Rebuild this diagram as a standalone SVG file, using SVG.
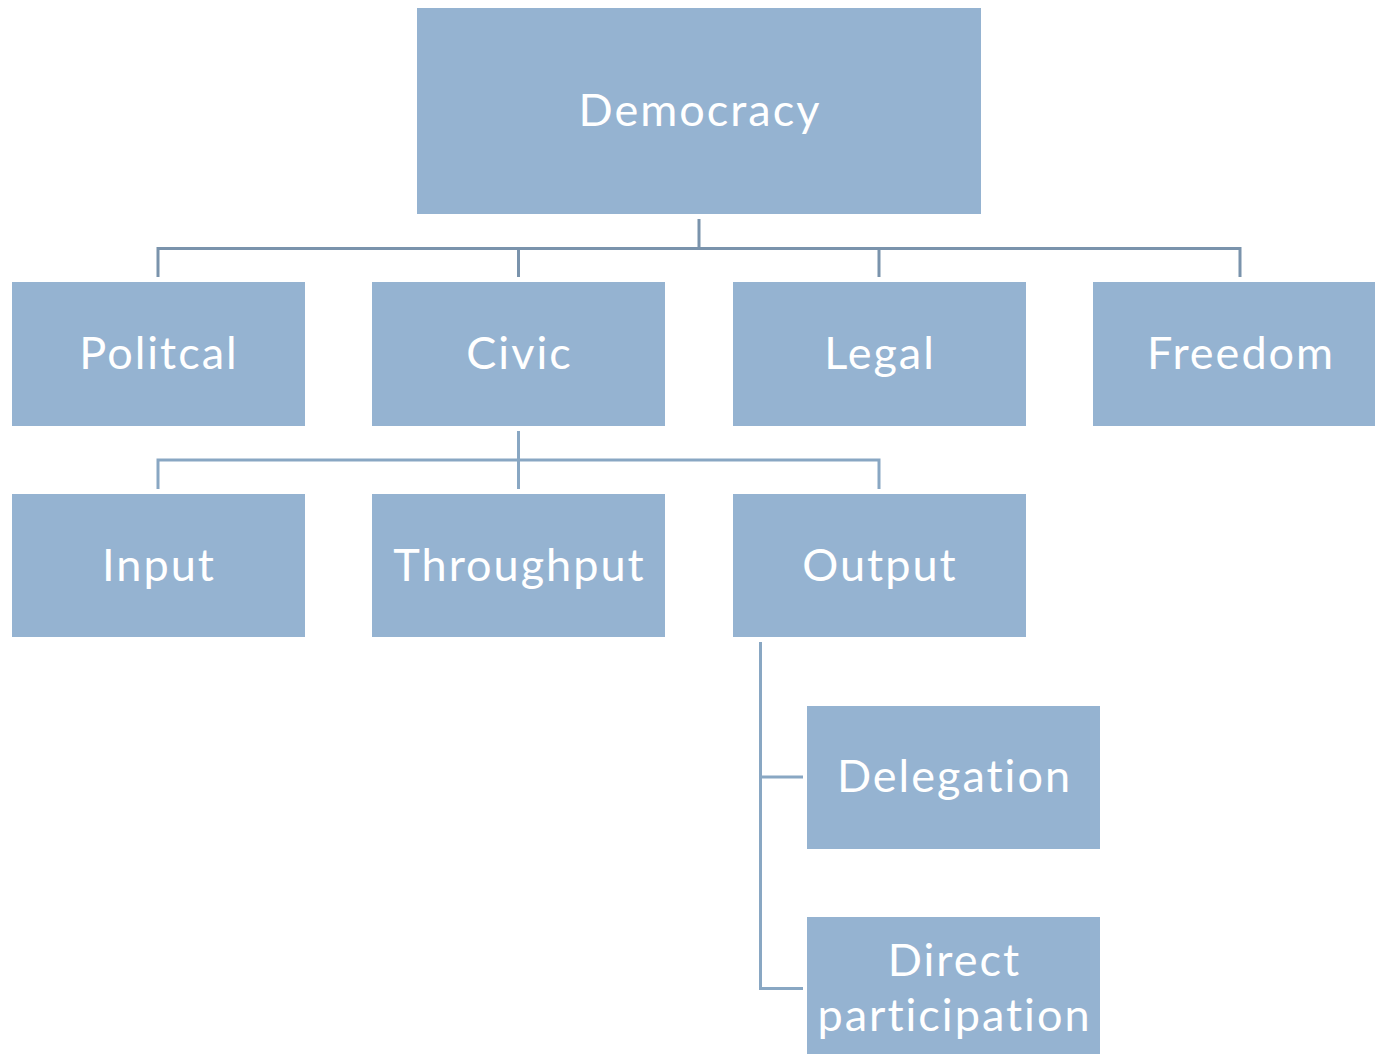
<svg xmlns="http://www.w3.org/2000/svg" width="1375" height="1055" viewBox="0 0 1375 1055">
<style>
.box{fill:#95B3D1}
.t{fill:#fff;font-family:Lato,"Open Sans",sans-serif;font-size:45px;letter-spacing:2px;text-anchor:middle}
.c1{fill:none;stroke:#7A93AC;stroke-width:3}
.c2{fill:none;stroke:#89A7C3;stroke-width:3}
</style>
<rect width="1375" height="1055" fill="#fff"/>
<g id="connectors">
<path class="c1" d="M699 219V248.5M158 277V248.5H1240V277M518.5 248.5V277M879 248.5V277"/>
<path class="c2" d="M518.5 431V460M158 489V460H879V489M518.5 460V489"/>
<path class="c2" d="M760.5 642V988.5H803M760.5 777H803"/>
</g>
<g id="democracy"><rect class="box" x="417" y="8" width="564" height="206"/><text class="t" x="700" y="126">Democracy</text></g>
<g id="politcal"><rect class="box" x="12" y="282" width="293" height="144"/><text class="t" x="159" y="369">Politcal</text></g>
<g id="civic"><rect class="box" x="372" y="282" width="293" height="144"/><text class="t" x="519.5" y="369">Civic</text></g>
<g id="legal"><rect class="box" x="733" y="282" width="293" height="144"/><text class="t" x="880" y="369">Legal</text></g>
<g id="freedom"><rect class="box" x="1093" y="282" width="282" height="144"/><text class="t" x="1241" y="369">Freedom</text></g>
<g id="input"><rect class="box" x="12" y="494" width="293" height="143"/><text class="t" x="159" y="581">Input</text></g>
<g id="throughput"><rect class="box" x="372" y="494" width="293" height="143"/><text class="t" x="519.5" y="581">Throughput</text></g>
<g id="output"><rect class="box" x="733" y="494" width="293" height="143"/><text class="t" x="880" y="581">Output</text></g>
<g id="delegation"><rect class="box" x="807" y="706" width="293" height="143"/><text class="t" x="954.5" y="792">Delegation</text></g>
<g id="direct"><rect class="box" x="807" y="917" width="293" height="137"/><text class="t" x="954.5" y="976">Direct</text><text class="t" x="954.5" y="1031">participation</text></g>
</svg>
